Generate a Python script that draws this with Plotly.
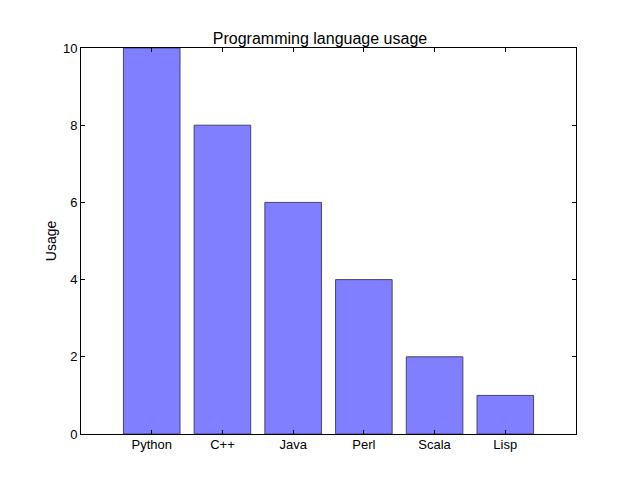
import plotly.graph_objects as go

languages = ["Python", "C++", "Java", "Perl", "Scala", "Lisp"]
usage = [10, 8, 6, 4, 2, 1]
y_ticks = [0, 2, 4, 6, 8, 10]

FONT = "Liberation Sans, Arial, sans-serif"

fig = go.Figure()
fig.add_trace(go.Bar(
    x=list(range(len(languages))),
    y=usage,
    width=0.8,
    marker=dict(color="#7f7fff", line=dict(color="#45456e", width=1)),
))

axis_common = dict(
    showgrid=False, zeroline=False, showline=True, linecolor="black", linewidth=1,
    mirror="ticks", ticks="inside", ticklen=4, tickcolor="black",
    tickfont=dict(family=FONT, size=13, color="black"),
)

fig.update_layout(
    width=640, height=482,
    margin=dict(l=81, r=64, t=48, b=48),
    paper_bgcolor="white", plot_bgcolor="white",
    showlegend=False,
    title=dict(text="Programming language usage", x=0.5, xanchor="center",
               y=1 - 38 / 482, yanchor="middle",
               font=dict(family=FONT, size=16, color="black")),
    xaxis=dict(range=[-1, 6], tickmode="array", tickvals=list(range(len(languages))),
               ticktext=languages, ticklabelstandoff=-2, **axis_common),
    yaxis=dict(range=[0, 10], tickmode="array", tickvals=y_ticks,
               ticktext=[str(v) for v in y_ticks],
               title=dict(text="Usage", standoff=3,
                          font=dict(family=FONT, size=14, color="black")),
               **axis_common),
)

fig.write_html("out.html")
